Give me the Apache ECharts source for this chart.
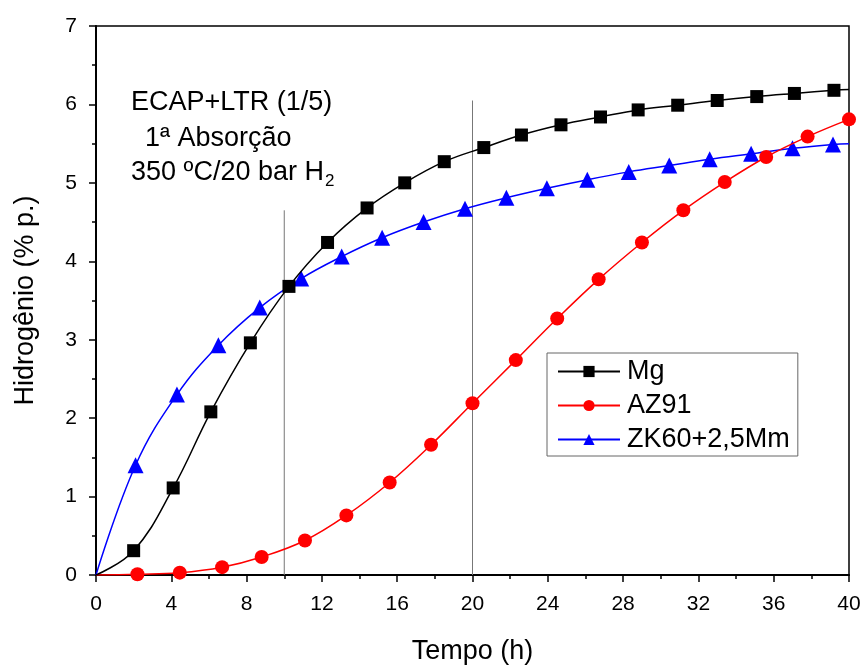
<!DOCTYPE html>
<html><head><meta charset="utf-8">
<script src="https://cdn.jsdelivr.net/npm/echarts@6/dist/echarts.min.js"></script>
<style>html,body{margin:0;padding:0;background:#fff}#c{width:864px;height:666px}</style>
</head><body><div id="c"></div>
<script>
const mgX = [0, 2.0, 4.1, 6.1, 8.2, 10.25, 12.3, 14.4, 16.4, 18.5, 20.6, 22.6, 24.7, 26.8, 28.8, 30.9, 33.0, 35.1, 37.1, 39.2, 40];
const mgY = [0, 0.31, 1.11, 2.08, 2.96, 3.68, 4.24, 4.68, 5.0, 5.27, 5.45, 5.61, 5.74, 5.84, 5.93, 5.99, 6.05, 6.10, 6.14, 6.18, 6.19];
const azX = [0, 2.2, 4.45, 6.7, 8.8, 11.1, 13.3, 15.6, 17.8, 20.0, 22.3, 24.5, 26.7, 29.0, 31.2, 33.4, 35.6, 37.8, 40.0];
const azY = [0, 0.01, 0.03, 0.10, 0.23, 0.44, 0.76, 1.18, 1.66, 2.19, 2.74, 3.27, 3.77, 4.24, 4.65, 5.01, 5.33, 5.59, 5.81];
const zkX = [0, 2.1, 4.3, 6.5, 8.7, 10.9, 13.05, 15.2, 17.4, 19.6, 21.8, 23.95, 26.1, 28.3, 30.45, 32.6, 34.8, 37.0, 39.15, 40];
const zkY = [0, 1.40, 2.30, 2.93, 3.41, 3.78, 4.06, 4.30, 4.50, 4.67, 4.81, 4.93, 5.04, 5.14, 5.22, 5.30, 5.37, 5.44, 5.49, 5.50];
const refLineX = [10, 20];
const refLineTop = [4.65, 6.05];
const xTicks = [0, 4, 8, 12, 16, 20, 24, 28, 32, 36, 40];
const yTicks = [0, 1, 2, 3, 4, 5, 6, 7];
const names = ['Mg', 'AZ91', 'ZK60+2,5Mm'];
const notes = ['ECAP+LTR (1/5)', '1ª Absorção', '350 ºC/20 bar H'];

function pairs(xs, ys, lastHidden) {
  return xs.map((x, i) => {
    const hide = i === 0 || (lastHidden && i === xs.length - 1);
    return hide ? { value: [x, ys[i]], symbolSize: 0 } : [x, ys[i]];
  });
}
const FONT = 'Liberation Sans, Arial, sans-serif';
const chart = echarts.init(document.getElementById('c'));
const series = [
  { name: names[0], type: 'line', smooth: 0.4, data: pairs(mgX, mgY, true), symbol: 'rect', symbolSize: 13,
    color: '#000000', lineStyle: { width: 1.5, color: '#000' }, z: 5 },
  { name: names[1], type: 'line', smooth: 0.4, data: pairs(azX, azY, false), symbol: 'circle', symbolSize: 14,
    color: '#ff0000', lineStyle: { width: 1.5, color: '#ff0000' }, z: 4 },
  { name: names[2], type: 'line', smooth: 0.4, data: pairs(zkX, zkY, true), symbol: 'triangle', symbolSize: 16,
    color: '#0000ff', lineStyle: { width: 1.5, color: '#0000ff' }, z: 3 }
];
refLineX.forEach((x, i) => {
  series.push({ type: 'line', data: [[x, 0], [x, refLineTop[i]]], symbol: 'none', silent: true,
    lineStyle: { color: '#777', width: 1 }, z: 1 });
});
chart.setOption({
  animation: false,
  backgroundColor: '#fff',
  grid: { left: 96, right: 15, top: 26, bottom: 91, show: true, borderColor: '#000', borderWidth: 1.5,
    containLabel: false, outerBoundsMode: 'none' },
  xAxis: {
    type: 'value', min: 0, max: 40, interval: 4,
    name: 'Tempo (h)', nameLocation: 'middle', nameGap: 63,
    nameTextStyle: { fontSize: 27, color: '#000', fontFamily: FONT },
    axisLine: { show: true, lineStyle: { color: '#000', width: 2 } },
    axisTick: { show: true, length: 7, lineStyle: { color: '#000', width: 1.5 } },
    minorTick: { show: true, splitNumber: 2, length: 4, lineStyle: { color: '#000', width: 1.5 } },
    splitLine: { show: false },
    axisLabel: { fontSize: 21, color: '#000', fontFamily: FONT, margin: 19,
      formatter: v => xTicks.includes(v) ? String(v) : '' }
  },
  yAxis: {
    type: 'value', min: 0, max: 7, interval: 1,
    name: 'Hidrogênio (% p.)', nameLocation: 'middle', nameGap: 57, nameRotate: 90,
    nameTextStyle: { fontSize: 27, color: '#000', fontFamily: FONT },
    axisLine: { show: true, lineStyle: { color: '#000', width: 2 } },
    axisTick: { show: true, length: 7, lineStyle: { color: '#000', width: 1.5 } },
    minorTick: { show: true, splitNumber: 2, length: 4, lineStyle: { color: '#000', width: 1.5 } },
    splitLine: { show: false },
    axisLabel: { fontSize: 21, color: '#000', fontFamily: FONT, margin: 19,
      formatter: v => yTicks.includes(v) ? String(v) : '' }
  },
  legend: {
    data: names, orient: 'vertical', left: 547, top: 353,
    itemWidth: 62, itemHeight: 14, itemGap: 7,
    padding: [5, 8, 3, 10],
    borderColor: '#666', borderWidth: 1, backgroundColor: '#fff',
    textStyle: { fontSize: 27, color: '#000', fontFamily: FONT, padding: [0, 0, 0, 2] }
  },
  graphic: [
    { type: 'text', left: 131, top: 89, style: { text: notes[0], fontSize: 27, fill: '#000', fontFamily: FONT } },
    { type: 'text', left: 145, top: 125, style: { text: notes[1], fontSize: 27, fill: '#000', fontFamily: FONT } },
    { type: 'text', left: 131, top: 159, style: { text: notes[2] + '{s|2}', fontSize: 27, fill: '#000', fontFamily: FONT,
      rich: { s: { fontSize: 17, fontFamily: FONT, fill: '#000', padding: [17, 0, 0, 1] } } } }
  ],
  series: series
});
</script></body></html>
